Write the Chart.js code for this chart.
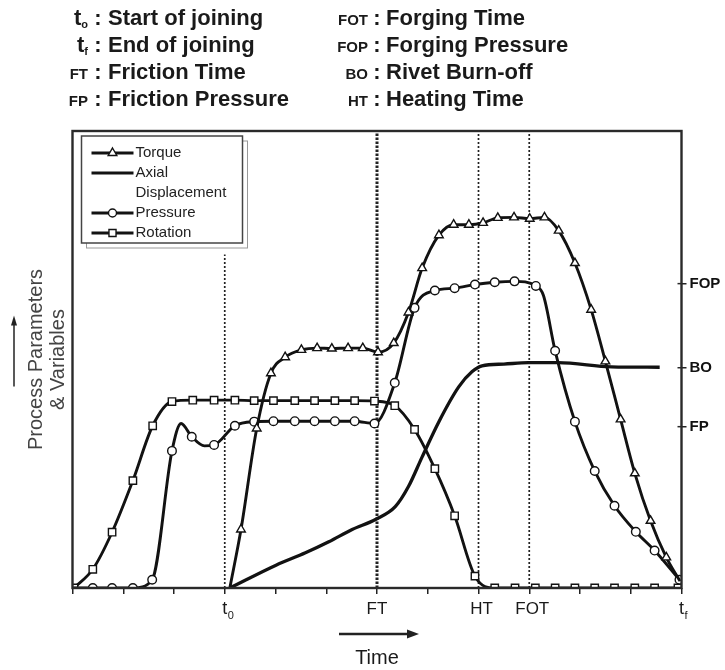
<!DOCTYPE html>
<html>
<head>
<meta charset="utf-8">
<script src="https://cdn.jsdelivr.net/npm/chart.js"></script>
<style>
  body { margin: 0; background: #fff; }
  .wrap { position: relative; width: 725px; height: 670px; }
  .row { position: absolute; height: 27px; line-height: 27px; white-space: nowrap;
         font: bold 22px 'Liberation Sans', Arial, sans-serif; color: #1a1a1a; }
  .pre { display: inline-block; text-align: right; font-size: 15px; }
  .pre.t { font-size: 22px; }
  .pre sub { font-size: 11px; vertical-align: -3px; }
  .colon { display: inline-block; text-align: center; }
  .left .pre { width: 48px; }
  .left .colon { width: 20px; }
  .right .pre { width: 68px; }
  .right .colon { width: 18px; }
  canvas { position: absolute; left: 0; top: 0; }
</style>
</head>
<body>
<div class="wrap">
  <canvas id="myChart" width="725" height="670"></canvas>
  <div class="row left" style="left:40px;top:5px"><span class="pre t">t<sub>o</sub></span><span class="colon">:</span>Start of joining</div>
  <div class="row left" style="left:40px;top:32px"><span class="pre t">t<sub>f</sub></span><span class="colon">:</span>End of joining</div>
  <div class="row left" style="left:40px;top:59px"><span class="pre">FT</span><span class="colon">:</span>Friction Time</div>
  <div class="row left" style="left:40px;top:86px"><span class="pre">FP</span><span class="colon">:</span>Friction Pressure</div>
  <div class="row right" style="left:300px;top:5px"><span class="pre">FOT</span><span class="colon">:</span>Forging Time</div>
  <div class="row right" style="left:300px;top:32px"><span class="pre">FOP</span><span class="colon">:</span>Forging Pressure</div>
  <div class="row right" style="left:300px;top:59px"><span class="pre">BO</span><span class="colon">:</span>Rivet Burn-off</div>
  <div class="row right" style="left:300px;top:86px"><span class="pre">HT</span><span class="colon">:</span>Heating Time</div>
</div>
<script>
// values (time 0..12, level 0..100)
const rotX = [0.03, 0.40, 0.78, 1.19, 1.58, 1.96, 2.37, 2.79, 3.20, 3.58, 3.96, 4.38, 4.77, 5.17, 5.56, 5.95, 6.35, 6.74, 7.14, 7.53, 7.93, 8.32, 8.72, 9.12, 9.51, 9.90, 10.29, 10.68, 11.08, 11.47, 11.93];
const rotY = [0, 4.1, 12.2, 23.5, 35.5, 40.8, 41.1, 41.1, 41.1, 41.0, 41.0, 41.0, 41.0, 41.0, 41.0, 40.9, 39.9, 34.7, 26.1, 15.8, 2.6, 0, 0, 0, 0, 0, 0, 0, 0, 0, 0];

const presX = [0.40, 0.78, 1.19, 1.57, 1.96, 2.35, 2.79, 3.20, 3.58, 3.96, 4.38, 4.77, 5.17, 5.56, 5.95, 6.35, 6.74, 7.14, 7.53, 7.93, 8.32, 8.71, 9.13, 9.51, 9.90, 10.29, 10.68, 11.10, 11.47, 11.96];
const presY = [0, 0, 0, 1.8, 30.0, 33.1, 31.3, 35.5, 36.4, 36.5, 36.5, 36.5, 36.5, 36.5, 36.0, 44.9, 61.3, 65.1, 65.6, 66.4, 66.9, 67.1, 66.1, 51.9, 36.4, 25.6, 18.0, 12.3, 8.2, 1.8];
const presBendX = [0, 2.14, 2.60, 9.28];
const presBendY = [0, 36.0, 31.1, 64.0];

const torX = [3.32, 3.63, 3.91, 4.19, 4.51, 4.82, 5.11, 5.43, 5.72, 6.02, 6.33, 6.62, 6.89, 7.22, 7.51, 7.81, 8.09, 8.38, 8.70, 9.01, 9.30, 9.58, 9.90, 10.22, 10.50, 10.80, 11.08, 11.39, 11.70];
const torY = [12.8, 34.9, 47.0, 50.5, 52.1, 52.5, 52.4, 52.5, 52.5, 51.6, 53.6, 60.3, 70.0, 77.2, 79.5, 79.5, 79.9, 81.0, 81.1, 80.8, 81.1, 78.2, 71.1, 60.9, 49.6, 36.9, 25.1, 14.7, 6.7];
const torBendX = [3.10, 11.97];
const torBendY = [0, 1.5];

const axialX = [3.10, 4.01, 4.59, 5.05, 5.51, 5.97, 6.36, 6.62, 6.89, 7.22, 7.61, 7.87, 8.07, 8.50, 8.98, 9.57, 10.62, 11.57];
const axialY = [0, 5.0, 7.7, 10.1, 12.8, 15.0, 17.8, 22.2, 28.7, 36.4, 44.0, 47.3, 48.6, 49.0, 49.3, 49.3, 48.4, 48.3];

const eventTimes = [3, 6, 8, 9];
const eventTops = [73, 100, 100, 100];
const timeTicks = [3, 6, 8, 9, 12];
const timeLabels = ['t', 'FT', 'HT', 'FOT', 't'];
const timeSubs = ['0', '', '', '', 'f'];

const paramLevels = [35.3, 48.2, 66.6];
const paramNames = ['FP', 'BO', 'FOP'];

const legendNames = [['Torque'], ['Axial', 'Displacement'], ['Pressure'], ['Rotation']];
const legendMarks = ['triangle', null, 'circle', 'rect'];

const ink = '#121212';
const font = "'Liberation Sans', Arial, sans-serif";

function points(xs, ys, bx = [], by = []) {
    const pts = xs.map((x, i) => ({ x: x, y: ys[i] }));
    bx.forEach((x, i) => pts.push({ x: x, y: by[i], bend: true }));
    return pts.sort((a, b) => a.x - b.x);
}

function curve(pts, style, radius, width) {
    return {
        data: pts,
        borderColor: ink,
        borderWidth: width,
        cubicInterpolationMode: 'monotone',
        pointStyle: style,
        pointRadius: c => (c.raw && c.raw.bend) || !style ? 0 : radius,
        pointBorderColor: ink,
        pointBackgroundColor: '#fff',
        pointBorderWidth: 1.4,
        order: 1
    };
}

const eventLines = eventTimes.map((t, i) => ({
    data: [{ x: t, y: 0 }, { x: t, y: eventTops[i] }],
    borderColor: '#222',
    borderWidth: t === 6 ? 3 : 1.7,
    borderDash: t === 6 ? [2.5, 1.5] : [2, 2],
    pointRadius: 0,
    order: 5
}));

const decorations = {
    id: 'decorations',
    afterDatasetsDraw(chart) {
        const c = chart.ctx;
        const a = chart.chartArea;
        const xs = chart.scales.x;
        const ys = chart.scales.y2;
        c.save();

        // frame
        c.strokeStyle = '#2a2a2a';
        c.lineWidth = 2.4;
        c.strokeRect(a.left, a.top, a.right - a.left, a.bottom - a.top);

        // inner half of the right ticks
        c.lineWidth = 1.5;
        paramLevels.forEach(v => {
            const y = ys.getPixelForValue(v);
            c.beginPath();
            c.moveTo(a.right - 4, y);
            c.lineTo(a.right, y);
            c.stroke();
        });

        // time labels
        c.fillStyle = '#1a1a1a';
        c.textBaseline = 'middle';
        timeTicks.forEach((v, i) => {
            const x = xs.getPixelForValue(v);
            const y = a.bottom + 21;
            if (timeSubs[i]) {
                c.font = '18px ' + font;
                c.textAlign = 'center';
                c.fillText(timeLabels[i], x, y);
                c.font = '11px ' + font;
                c.textAlign = 'left';
                c.fillText(timeSubs[i], x + 3, y + 7);
            } else {
                c.font = '17px ' + font;
                c.textAlign = 'center';
                c.fillText(timeLabels[i], x + (v > 7 ? 3 : 0), y);
            }
        });

        // arrows
        const cx = (a.left + a.right) / 2;
        c.fillStyle = '#222';
        c.strokeStyle = '#222';
        c.lineWidth = 2.5;
        c.beginPath();
        c.moveTo(cx - 38, a.bottom + 46);
        c.lineTo(cx + 32, a.bottom + 46);
        c.stroke();
        c.beginPath();
        c.moveTo(cx + 42, a.bottom + 46);
        c.lineTo(cx + 30, a.bottom + 41.5);
        c.lineTo(cx + 30, a.bottom + 50.5);
        c.fill();

        const cy = (a.top + a.bottom) / 2 - 8;
        c.lineWidth = 1.5;
        c.beginPath();
        c.moveTo(14, cy + 35);
        c.lineTo(14, cy - 28);
        c.stroke();
        c.beginPath();
        c.moveTo(14, cy - 36);
        c.lineTo(11, cy - 26);
        c.lineTo(17, cy - 26);
        c.fill();

        // legend box
        const lx = a.left + 9, ly = a.top + 5, lw = 161, lh = 107;
        c.strokeStyle = '#999';
        c.lineWidth = 1;
        c.strokeRect(lx + 5, ly + 5, lw, lh);
        c.fillStyle = '#fff';
        c.fillRect(lx, ly, lw, lh);
        c.strokeStyle = '#444';
        c.lineWidth = 1.5;
        c.strokeRect(lx, ly, lw, lh);

        let row = ly + 17;
        legendNames.forEach((lines, i) => {
            c.strokeStyle = ink;
            c.lineWidth = 3;
            c.beginPath();
            c.moveTo(lx + 10, row);
            c.lineTo(lx + 52, row);
            c.stroke();
            if (legendMarks[i]) {
                c.fillStyle = '#fff';
                c.lineWidth = 1.4;
                Chart.helpers.drawPoint(c, { pointStyle: legendMarks[i], radius: legendMarks[i] === 'circle' ? 4 : 5, borderWidth: 1.4 }, lx + 31, row);
            }
            c.fillStyle = '#222';
            c.font = '15px ' + font;
            c.textAlign = 'left';
            c.textBaseline = 'middle';
            lines.forEach((t, k) => {
                c.fillText(t, lx + 54, row + k * 20);
            });
            row += lines.length * 20;
        });
        c.restore();
    }
};

const ctx = document.getElementById('myChart');

new Chart(ctx, {
    type: 'line',
    data: {
        datasets: [
            curve(points(torX, torY, torBendX, torBendY), 'triangle', 5, 2.9),
            curve(points(axialX, axialY), null, 0, 3.3),
            curve(points(presX, presY, presBendX, presBendY), 'circle', 4.3, 2.9),
            curve(points(rotX, rotY), 'rect', 5.2, 2.9),
            ...eventLines
        ]
    },
    options: {
        responsive: false,
        animation: false,
        layout: { padding: { top: 131, left: 0, right: 0, bottom: 0 } },
        scales: {
            x: {
                type: 'linear',
                min: 0,
                max: 12,
                ticks: { stepSize: 1, autoSkip: false, maxRotation: 0, callback: () => '' },
                grid: { drawOnChartArea: false, tickLength: 6, color: '#222', lineWidth: 1.5 },
                border: { display: false },
                title: { display: true, text: 'Time', color: '#1a1a1a', font: { family: font, size: 20 }, padding: { top: 0, bottom: 0 } },
                afterFit: s => { s.height = 82; }
            },
            y: {
                min: 0,
                max: 100,
                ticks: { display: false },
                grid: { display: false },
                border: { display: false },
                title: {
                    display: true,
                    text: ['Process Parameters', '& Variables'],
                    color: '#444',
                    font: { family: font, size: 20, lineHeight: 1.1 },
                    padding: { top: 25, bottom: 0 }
                },
                afterFit: s => { s.width = 72.5; }
            },
            y2: {
                position: 'right',
                min: 0,
                max: 100,
                afterBuildTicks: s => { s.ticks = paramLevels.map(v => ({ value: v })); },
                ticks: {
                    autoSkip: false,
                    padding: 3,
                    color: '#111',
                    font: { family: font, size: 15, weight: 'bold' },
                    callback: (v, i) => paramNames[i]
                },
                grid: { drawOnChartArea: false, tickLength: 5, color: '#222', lineWidth: 1.5 },
                border: { display: false },
                afterFit: s => { s.width = 43.5; }
            }
        },
        plugins: {
            legend: { display: false },
            tooltip: { enabled: false }
        }
    },
    plugins: [decorations]
});
</script>
</body>
</html>
